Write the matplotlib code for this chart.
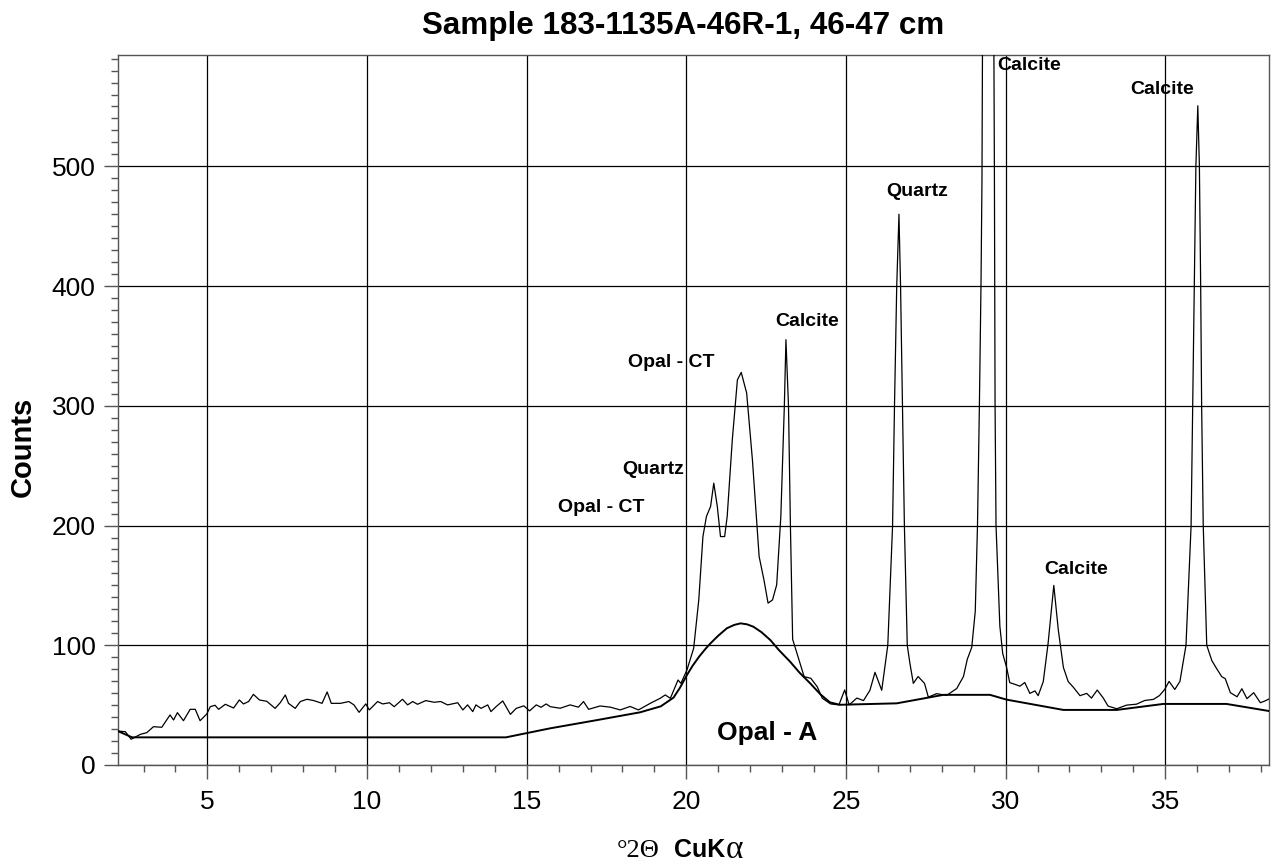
"""
XRD pattern, sample 183-1135A-46R-1, 46-47 cm.

Raw counts trace plus the fitted background / Opal-A hump,
with mineral peak labels.
"""

import matplotlib
matplotlib.use("Agg")
import matplotlib.pyplot as plt
from matplotlib.ticker import MultipleLocator

plt.rcParams["font.family"] = ["Liberation Sans", "DejaVu Sans"]

# measured trace (deg 2-theta, counts)
two_theta = [
    2.19, 2.43, 2.61, 2.90, 3.10, 3.31, 3.57, 3.83, 3.94, 4.06, 4.25, 4.46, 4.62, 4.77,
    4.98, 5.09, 5.24, 5.35, 5.56, 5.82, 6.00, 6.13, 6.29, 6.44, 6.63, 6.86, 7.12, 7.28,
    7.44, 7.54, 7.75, 7.91, 8.12, 8.33, 8.59, 8.75, 8.88, 9.17, 9.43, 9.59, 9.75, 9.96,
    10.07, 10.33, 10.49, 10.70, 10.85, 11.11, 11.27, 11.43, 11.58, 11.84, 12.10, 12.31,
    12.52, 12.84, 13.00, 13.15, 13.31, 13.41, 13.57, 13.78, 13.88, 14.04, 14.25, 14.49,
    14.67, 14.91, 15.09, 15.30, 15.45, 15.61, 15.74, 16.05, 16.36, 16.62, 16.78, 16.94,
    17.30, 17.62, 17.93, 18.24, 18.50, 18.87, 19.18, 19.34, 19.50, 19.74, 19.83, 20.02,
    20.23, 20.39, 20.52, 20.63, 20.76, 20.86, 20.97, 21.07, 21.20, 21.28, 21.44, 21.60,
    21.72, 21.89, 22.07, 22.28, 22.43, 22.56, 22.70, 22.83, 22.96, 23.07, 23.12, 23.20,
    23.26, 23.33, 23.53, 23.69, 23.90, 24.10, 24.26, 24.52, 24.78, 24.96, 25.10, 25.34,
    25.55, 25.75, 25.91, 26.12, 26.31, 26.46, 26.52, 26.59, 26.66, 26.71, 26.77, 26.83,
    26.92, 27.00, 27.11, 27.26, 27.46, 27.58, 27.84, 28.15, 28.47, 28.68, 28.80, 28.94,
    29.05, 29.12, 29.18, 29.23, 29.26, 29.45, 29.65, 29.67, 29.70, 29.82, 29.91, 30.03,
    30.13, 30.29, 30.45, 30.60, 30.76, 30.92, 31.02, 31.18, 31.33, 31.51, 31.65, 31.81,
    31.96, 32.12, 32.33, 32.54, 32.69, 32.87, 33.06, 33.21, 33.48, 33.79, 34.10, 34.36,
    34.63, 34.82, 34.98, 35.12, 35.30, 35.46, 35.65, 35.81, 35.86, 35.91, 35.96, 36.02,
    36.07, 36.11, 36.14, 36.19, 36.30, 36.46, 36.61, 36.77, 36.88, 37.04, 37.25, 37.40,
    37.56, 37.77, 37.98, 38.14, 38.27,
]
counts = [
    28.4, 27.8, 21.5, 25.6, 27.0, 32.0, 31.5, 41.8, 37.6, 43.7, 37.0, 46.5, 46.5, 37.0,
    42.6, 48.7, 49.9, 46.5, 50.7, 47.6, 54.3, 51.0, 53.0, 59.0, 54.3, 53.2, 47.3, 52.0,
    58.5, 51.5, 47.3, 53.0, 54.9, 53.8, 51.5, 61.0, 51.5, 51.5, 53.0, 50.2, 44.0, 51.0,
    46.0, 53.0, 51.0, 52.0, 48.7, 54.9, 50.2, 53.0, 50.7, 53.8, 52.4, 53.0,
    50.2, 52.0, 46.0, 50.2, 44.6, 50.2, 47.3, 50.2, 44.6, 48.7, 53.5, 42.3,
    47.3, 49.4, 45.2, 50.2, 48.2, 51.0, 48.7, 47.4, 50.2, 48.3, 53.0, 46.5,
    49.3, 48.3, 46.0, 48.9, 46.0, 51.5, 55.7, 58.5, 55.7, 71.0, 68.2, 79.4,
    97.5, 137.9, 190.8, 207.6, 216.0, 235.4, 216.0, 190.8, 190.8, 207.6, 271.6, 321.7,
    327.9, 310.6, 254.9, 174.2, 154.7, 135.2, 137.9, 150.5, 207.6, 300.0, 355.2, 300.0,
    200.0, 105.0, 87.7, 73.8, 72.4, 65.4, 55.7, 51.0, 50.2, 62.7, 50.2, 55.9,
    53.8, 62.4, 77.4, 62.4, 100.0, 200.0, 300.0, 400.0, 460.0, 400.0, 300.0, 200.0,
    100.0, 85.4, 68.2, 73.9, 68.2, 56.7, 59.6, 58.1, 63.9, 73.9, 88.3, 98.3,
    128.5, 200.7, 301.6, 402.5, 489.0, 1800.0, 489.0, 301.0, 200.0, 116.0, 93.0, 81.7,
    68.8, 67.4, 65.8, 68.9, 59.8, 61.9, 57.9, 69.7, 101.3, 150.0, 113.0, 81.5,
    69.7, 65.0, 57.9, 59.8, 55.9, 62.6, 55.9, 49.2, 47.0, 50.0, 50.8, 53.9,
    54.8, 58.0, 63.0, 69.8, 63.1, 69.8, 100.0, 200.0, 300.0, 400.0, 500.0, 550.6,
    500.0, 400.0, 300.0, 200.0, 100.0, 87.2, 80.5, 73.8, 72.1, 60.4, 57.0, 63.7,
    55.4, 60.4, 52.0, 53.7, 55.4,
]

# background line incl. Opal-A hump
bg_theta = [2.19, 2.64, 14.35, 15.73, 17.20, 18.55, 19.20, 19.60, 19.80, 20.02, 20.20,
            20.40, 20.60, 20.76, 21.00, 21.27, 21.50, 21.70, 21.90, 22.10, 22.35,
            22.63, 22.90, 23.25, 23.55, 23.88, 24.20, 24.50, 24.81, 26.59, 28.05,
            29.51, 30.03, 31.81, 33.48, 34.94, 36.92, 38.27]
bg_counts = [28.4, 23.1, 23.1, 30.6, 37.5, 44.0, 49.0, 56.3, 64.5, 75.2, 83.0,
             90.5, 97.0, 101.7, 108.0, 114.2, 117.0, 118.3, 117.5, 115.5, 111.0,
             104.4, 96.0, 86.3, 77.0, 68.2, 59.0, 52.3, 50.3, 51.5, 58.6,
             58.6, 54.6, 46.0, 46.0, 51.0, 51.0, 45.0]

# peak labels: text, 2-theta, counts, fontsize
peak_labels = [
    ("Opal - CT", 17.35, 215, 14),
    ("Quartz", 18.97, 247, 14),
    ("Opal - CT", 19.52, 336, 14),
    ("Calcite", 23.78, 370, 14),
    ("Quartz", 27.24, 479, 14),
    ("Calcite", 30.73, 584, 14),
    ("Calcite", 32.22, 163, 14),
    ("Calcite", 34.90, 564, 14),
    ("Opal - A", 22.53, 27, 19),
]

W, H = 1274, 867


def px(x, y):
    # pixel position -> figure fraction
    return x / W, 1 - y / H


fig = plt.figure(figsize=(W / 100, H / 100), dpi=100)
ax = fig.add_axes([117.7 / W, 1 - 765 / H, (1269 - 117.7) / W, (765 - 55) / H])

ax.plot(bg_theta, bg_counts, color="black", lw=1.4, zorder=3)
ax.plot(two_theta, counts, color="black", lw=0.9, zorder=4)

for text, x, y, size in peak_labels:
    ax.text(x, y, text, fontsize=size, fontweight="bold", ha="center", va="center", zorder=5)

ax.set_xlim(2.19, 38.25)
ax.set_ylim(0, 593)
ax.xaxis.set_major_locator(MultipleLocator(5))
ax.xaxis.set_minor_locator(MultipleLocator(1))
ax.yaxis.set_major_locator(MultipleLocator(100))
ax.yaxis.set_minor_locator(MultipleLocator(10))
ax.grid(True, which="major", color="black", lw=0.9)

ax.tick_params(which="both", direction="out", color="#555555", width=1, top=False, right=False)
ax.tick_params(which="major", length=10, labelsize=19)
ax.tick_params(axis="x", which="major", pad=8)
ax.tick_params(axis="y", which="major", pad=6)
ax.tick_params(which="minor", length=5)
for sp in ax.spines.values():
    sp.set_color("#555555")
    sp.set_linewidth(1)

fig.text(*px(683, 34), "Sample 183-1135A-46R-1, 46-47 cm", fontsize=22.6, fontweight="bold",
         ha="center", va="baseline")
fig.text(*px(22.5, 447), "Counts", fontsize=21, fontweight="bold", rotation=90,
         ha="center", va="center")

# x label: serif "°2Θ", bold sans "CuK", serif alpha
fig.text(*px(660, 857), "°2Θ", fontsize=19, family=["Liberation Serif", "DejaVu Serif"],
         ha="right", va="baseline")
fig.text(*px(674, 857), "CuK", fontsize=18, fontweight="bold", ha="left", va="baseline")
fig.text(*px(726, 858), "α", fontsize=24, family=["Liberation Serif", "DejaVu Serif"],
         ha="left", va="baseline")

fig.savefig("out.png", dpi=100)
